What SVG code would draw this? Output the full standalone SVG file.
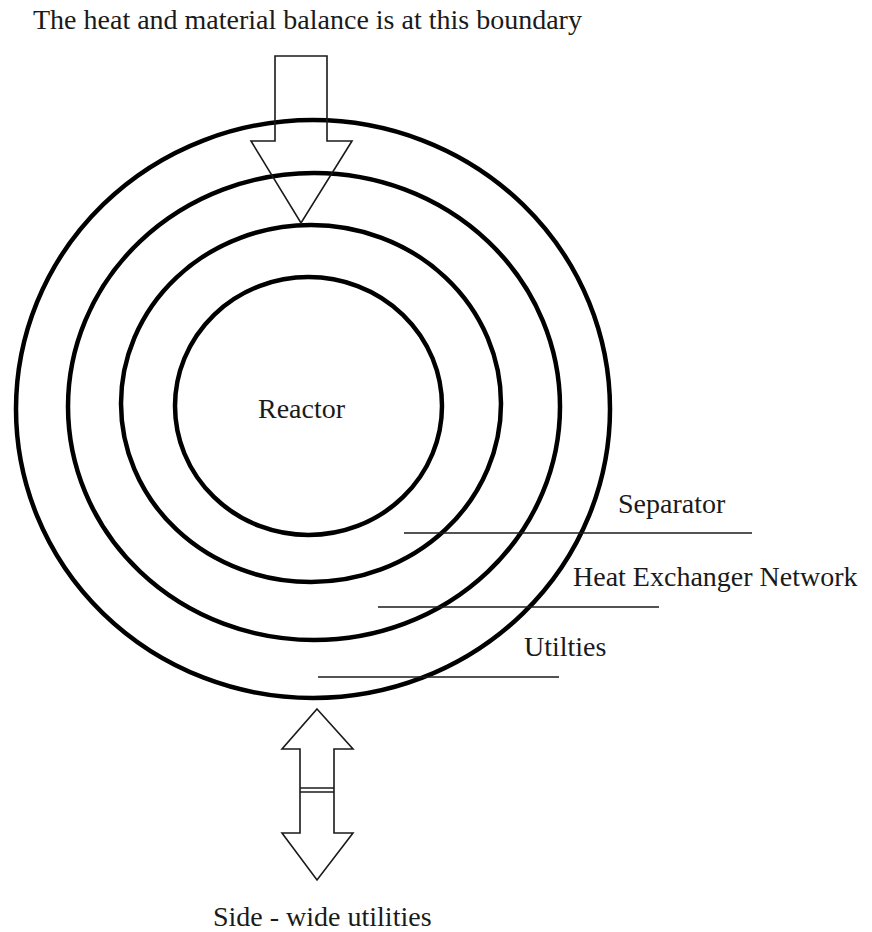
<svg xmlns="http://www.w3.org/2000/svg" width="872" height="932" viewBox="0 0 872 932">
<style>
.ring{fill:none;stroke:#000;stroke-width:4.5}
.thin{fill:none;stroke:#1a1a1a;stroke-width:1.6}
.lbl{font-family:"Liberation Serif","Times New Roman",serif;font-size:28px;fill:#1a1a1a}
</style>
<rect width="872" height="932" fill="#fff"/>
<g id="title"><text class="lbl" x="33" y="29">The heat and material balance is at this boundary</text></g>
<g id="utilities"><ellipse class="ring" cx="313" cy="409" rx="297" ry="289"/><text class="lbl" x="524" y="656">Utilties</text></g>
<g id="heat-exchanger-network"><ellipse class="ring" cx="314" cy="406.5" rx="246" ry="233.5"/><text class="lbl" x="573" y="586">Heat Exchanger Network</text></g>
<g id="separator"><ellipse class="ring" cx="311" cy="403.5" rx="190" ry="178.5"/><text class="lbl" x="618" y="513">Separator</text></g>
<g id="reactor"><ellipse class="ring" cx="308.5" cy="406" rx="133.5" ry="129"/><text class="lbl" x="258" y="418">Reactor</text></g>
<g id="side-wide-utilities"><text class="lbl" x="213" y="926">Side - wide utilities</text></g>
<g id="connectors">
<path class="thin" d="M275,56 H327 V141 H352 L301,223 L251,141 H275 Z"/>
<path class="thin" d="M317,709 L353,749 H334 V833 H353 L317,880 L282,833 H300 V749 H282 Z"/>
<line class="thin" x1="300" y1="788" x2="334" y2="788"/>
<line class="thin" x1="300" y1="792" x2="334" y2="792"/>
<line class="thin" x1="404" y1="533" x2="752" y2="533"/>
<line class="thin" x1="378" y1="607" x2="659" y2="607"/>
<line class="thin" x1="318" y1="677" x2="559" y2="677"/>
</g>
</svg>
